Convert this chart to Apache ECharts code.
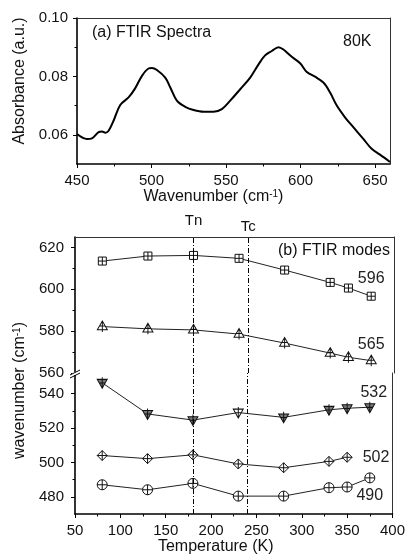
<!DOCTYPE html>
<html><head><meta charset="utf-8">
<script src="https://cdn.jsdelivr.net/npm/echarts@6/dist/echarts.min.js"></script>
<style>html,body{margin:0;padding:0;background:#fff}#c{width:408px;height:560px}</style>
</head><body><div id="c"></div>
<script>
// ---- (a) FTIR spectrum ----
const wavenumber = [450, 456.7, 460, 464.5, 466.8, 469, 471.2, 474.6, 479, 484.6, 489, 493.6, 498, 500.3, 503.6, 509.2, 512.6, 517, 522.6, 528.2, 534.9, 541.6, 547.2, 552.8, 559.5, 566.2, 571.8, 576.2, 580.7, 585.2, 588.5, 594.1, 599.7, 604.2, 609.7, 615.3, 619.8, 624.3, 629.8, 635.4, 642.1, 647.7, 653.3, 660];
const absorbance = [0.0603, 0.0586, 0.0588, 0.0609, 0.0611, 0.0607, 0.0614, 0.0649, 0.0702, 0.0728, 0.0759, 0.0802, 0.0827, 0.0829, 0.0822, 0.0796, 0.0762, 0.0717, 0.0696, 0.0685, 0.0679, 0.0679, 0.0688, 0.0717, 0.0756, 0.0796, 0.0841, 0.0872, 0.0887, 0.0900, 0.0892, 0.0867, 0.0845, 0.0815, 0.0799, 0.0779, 0.0745, 0.0700, 0.0660, 0.0626, 0.0586, 0.0552, 0.0532, 0.0507];
const specXTicks = [450, 500, 550, 600, 650];
const specXMinor = [475, 525, 575, 625];
const specYTicks = [0.06, 0.08, 0.10];
const specYMinor = [0.07, 0.09];

// ---- (b) FTIR modes ----
const temperature = [80, 130, 180, 230, 280, 330, 350, 375];
const mode596 = [613.5, 615.9, 616.2, 614.8, 609.2, 603.3, 600.6, 596.7];
const mode565 = [582.2, 581.1, 580.6, 578.6, 574.3, 569.5, 567.5, 565.9];
const mode532 = [546.3, 528.2, 524.6, 529.0, 526.2, 530.6, 531.5, 532.1];
const mode502 = [504.0, 502.2, 504.4, 499.1, 496.9, 500.6, 503.0];
const mode490 = [487.0, 484.1, 487.8, 480.4, 480.4, 485.3, 485.7, 491.0];
const modeNames = ['596', '565', '532', '502', '490'];
const tempTicks = [50, 100, 150, 200, 250, 300, 350, 400];
const tempMinor = [75, 125, 175, 225, 275, 325, 375];
const upperTicks = [560, 580, 600, 620];
const upperMinor = [570, 590, 610];
const lowerTicks = [480, 500, 520, 540];
const lowerMinor = [490, 510, 530];
const transitionNames = ['Tn', 'Tc'];
const transitionTemps = [180, 240];

const FONT = 'Liberation Sans, Arial, sans-serif';
const TXT = '#111';
const G0 = {left: 77, top: 18, width: 313, height: 146};
const G1 = {left: 75, top: 237, width: 319, height: 136};
const G2 = {left: 75, top: 373, width: 319, height: 141};

const thick = {show: true, lineStyle: {color: '#000', width: 1.6}};
const thin = {show: true, lineStyle: {color: '#333', width: 1}};
const none = {show: false};

function frameAxis(grid, pos, min, max) {
  return {type: 'value', gridIndex: grid, position: pos, min, max,
    axisLine: thin, axisTick: none, axisLabel: none, splitLine: none};
}
function minorAxis(grid, pos, min, max, vals) {
  return {type: 'value', gridIndex: grid, position: pos, min, max,
    axisLine: none, splitLine: none, axisLabel: {show: false, customValues: vals},
    axisTick: {show: true, length: 2.5, customValues: vals, lineStyle: {color: '#000', width: 1}}};
}
function mainAxis(grid, pos, min, max, vals, fmt, margin) {
  return {type: 'value', gridIndex: grid, position: pos, min, max,
    axisLine: thick, splitLine: none,
    axisTick: {show: true, length: 4, customValues: vals, lineStyle: {color: '#000', width: 1}},
    axisLabel: {show: true, customValues: vals, formatter: fmt, color: TXT, fontSize: 15, fontFamily: FONT, margin}};
}

const P_SQUARE = 'path://M0,0H10V10H0Z M5,0V10 M0,5H10';
const P_UP = 'path://M5,0L10,8.66L0,8.66Z M5,0V11 M2,5H8';
const P_DOWN = 'path://M0,2H10L5,10.66Z M5,0V10.66 M2,5.5H8';
const P_DIAMOND = 'path://M5,0L10,5L5,10L0,5Z M5,0V10 M0,5H10';
const P_CIRCLE = 'path://M0,5A5,5 0 1 1 10,5A5,5 0 1 1 0,5Z M5,0V10 M0,5H10';

function modeData(vals, labelCfg) {
  return vals.map((v, i) => {
    const d = {value: [temperature[i], v]};
    if (i === vals.length - 1) {
      d.label = Object.assign({show: true, color: '#222', fontSize: 16, fontFamily: FONT}, labelCfg);
    }
    return d;
  });
}
function modeSeries(name, vals, sym, size, fill, xi, yi, labelCfg, extra) {
  return Object.assign({
    type: 'line', name, xAxisIndex: xi, yAxisIndex: yi,
    data: modeData(vals, Object.assign({formatter: name}, labelCfg)),
    symbol: sym, symbolSize: size, showAllSymbol: true,
    itemStyle: {color: fill, borderColor: '#111', borderWidth: 1},
    lineStyle: {color: '#222', width: 1}, z: 3
  }, extra || {});
}
function vlines(withLabel) {
  return {
    silent: true, symbol: ['none', 'none'],
    lineStyle: {color: '#000', width: 1, type: [5, 2, 1, 2]},
    label: {show: withLabel, position: 'end', color: '#111', fontSize: 15, fontFamily: FONT, formatter: p => p.name},
    data: transitionTemps.map((t, i) => ({name: transitionNames[i], xAxis: t,
      label: {distance: i === 0 ? 9 : 3}}))
  };
}

const d532 = modeData(mode532, {formatter: modeNames[2], position: 'top', distance: 1, offset: [4, 0]});
d532[3].itemStyle = {color: '#fff'};

const option = {
  animation: false,
  backgroundColor: '#fff',
  textStyle: {fontFamily: FONT},
  title: [
    {text: '(a) FTIR Spectra', left: 92, top: 25, padding: 0, textStyle: {fontSize: 16, fontWeight: 'normal', color: TXT, fontFamily: FONT}},
    {text: '80K', left: 343, top: 34, padding: 0, textStyle: {fontSize: 16, fontWeight: 'normal', color: TXT, fontFamily: FONT}},
    {text: '(b) FTIR modes', right: 18, top: 243, padding: 0, textStyle: {fontSize: 16, fontWeight: 'normal', color: TXT, fontFamily: FONT}}
  ],
  grid: [G0, G1, G2].map(g => Object.assign({containLabel: false}, g)),
  xAxis: [
    Object.assign(mainAxis(0, 'bottom', 450, 660, specXTicks, v => String(v), 9), {
      name: 'Wavenumber (cm{sup|-1})', nameLocation: 'middle', nameGap: 20,
      nameTextStyle: {fontSize: 16, color: TXT, fontFamily: FONT, padding: [0, 40, 0, 0],
        rich: {sup: {fontSize: 10, verticalAlign: 'top', color: TXT, fontFamily: FONT}}}
    }),
    frameAxis(0, 'top', 450, 660),
    minorAxis(0, 'bottom', 450, 660, specXMinor),
    frameAxis(1, 'top', 50, 400),
    Object.assign(mainAxis(2, 'bottom', 50, 400, tempTicks, v => String(v), 9), {
      name: 'Temperature (K)', nameLocation: 'middle', nameGap: 23,
      nameTextStyle: {fontSize: 16, color: TXT, fontFamily: FONT, padding: [0, 36, 0, 0]}
    }),
    minorAxis(2, 'bottom', 50, 400, tempMinor)
  ],
  yAxis: [
    Object.assign(mainAxis(0, 'left', 0.05, 0.10, specYTicks, v => v.toFixed(2), 9), {
      name: 'Absorbance (a.u.)', nameLocation: 'middle', nameGap: 48,
      nameTextStyle: {fontSize: 16, color: TXT, fontFamily: FONT, padding: [0, 0, 0, 20]}
    }),
    frameAxis(0, 'right', 0.05, 0.10),
    minorAxis(0, 'left', 0.05, 0.10, specYMinor),
    mainAxis(1, 'left', 560, 625, upperTicks, v => String(v), 11),
    minorAxis(1, 'left', 560, 625, upperMinor),
    frameAxis(1, 'right', 560, 625),
    Object.assign(mainAxis(2, 'left', 470, 552, lowerTicks, v => String(v), 11), {
      name: 'wavenumber (cm{sup|-1})', nameLocation: 'middle', nameGap: 42,
      nameTextStyle: {fontSize: 16, color: TXT, fontFamily: FONT, padding: [0, 0, 0, 106],
        rich: {sup: {fontSize: 10, verticalAlign: 'top', color: TXT, fontFamily: FONT}}}
    }),
    minorAxis(2, 'left', 470, 552, lowerMinor),
    frameAxis(2, 'right', 470, 552)
  ],
  series: [
    {type: 'line', xAxisIndex: 0, yAxisIndex: 0, smooth: 0.35, showSymbol: false,
      lineStyle: {color: '#000', width: 2}, data: wavenumber.map((w, i) => [w, absorbance[i]])},
    modeSeries(modeNames[0], mode596, P_SQUARE, [8, 8], '#fff', 3, 3, {position: 'top', distance: 5}, {markLine: vlines(true)}),
    modeSeries(modeNames[1], mode565, P_UP, [10, 11], '#fff', 3, 3, {position: 'top', distance: 2}),
    Object.assign(modeSeries(modeNames[2], mode532, P_DOWN, [10, 11], '#777', 4, 6, {}, {markLine: vlines(false)}), {data: d532}),
    modeSeries(modeNames[3], mode502, P_DIAMOND, [10, 10], '#fff', 4, 6, {position: 'right', distance: 10}),
    modeSeries(modeNames[4], mode490, P_CIRCLE, [10, 10], '#fff', 4, 6, {position: 'bottom', distance: 4})
  ]
};

const chart = echarts.init(document.getElementById('c'), null, {renderer: 'canvas'});
chart.setOption(option);

// axis-break decoration on the left axis of panel (b)
const bx = G1.left, by = G1.top + G1.height;
chart.setOption({graphic: [
  {type: 'rect', shape: {x: bx - 3, y: by - 1, width: 6, height: 3}, style: {fill: '#fff'}, z: 10},
  {type: 'line', shape: {x1: bx - 5, y1: by + 2, x2: bx + 5, y2: by - 3}, style: {stroke: '#000', lineWidth: 1}, z: 11},
  {type: 'line', shape: {x1: bx - 5, y1: by + 5, x2: bx + 5, y2: by}, style: {stroke: '#000', lineWidth: 1}, z: 11}
]});
</script></body></html>
